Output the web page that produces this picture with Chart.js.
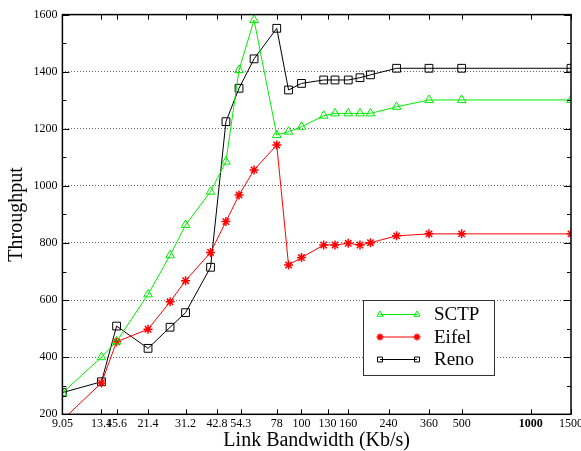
<!DOCTYPE html>
<html>
<head>
<meta charset="utf-8">
<script src="https://cdn.jsdelivr.net/npm/chart.js@4.4.1/dist/chart.umd.min.js"></script>
<style>
  body { margin: 0; background: #fff; }
  canvas { display: block; }
</style>
</head>
<body>
<canvas id="chart" width="581" height="451"></canvas>
<script>
// link bandwidth (Kb/s) of each measured point
var bandwidth = [9.05, 13.4, 15.6, 21.4, 26.7, 31.2, 40.1, 46.8, 53.4, 62.1, 78, 87.8, 100, 125, 140, 160, 180, 200, 260, 360, 500, 1500];
var sctp  = [275, 400, 455, 620, 757, 863, 980, 1085, 1406, 1581, 1178, 1190, 1207, 1246, 1254, 1254, 1254, 1254, 1277, 1301, 1301, 1301];
var eifel = [180, 310, 454, 498, 594, 668, 767, 875, 968, 1056, 1143, 723, 749, 793, 793, 799, 793, 801, 825, 832, 832, 832];
var reno  = [276, 314, 509, 431, 505, 556, 715, 1225, 1342, 1445, 1552, 1336, 1359, 1371, 1371, 1371, 1379, 1389, 1412, 1412, 1412, 1412];

var xTicks = [9.05, 13.4, 15.6, 21.4, 31.2, 42.8, 54.3, 78, 100, 130, 160, 240, 360, 500, 1000, 1500];
var yMin = 200, yMax = 1600;

var serif = '"Liberation Serif", "DejaVu Serif", serif';

function points(ys){
	var out = [];
	for(var i = 0; i < bandwidth.length; i++){
		out.push({x: bandwidth[i], y: ys[i]});
	}
	return out;
}

// box round the plot, inward ticks on all four sides
var frame = {
	id: 'frame',
	afterDatasetsDraw: function(chart){
		var ctx = chart.ctx, a = chart.chartArea;
		var xs = chart.scales.x, ys = chart.scales.y;
		ctx.save();
		ctx.strokeStyle = '#000';
		ctx.lineWidth = 1;
		ctx.beginPath();
		for(var i = 0; i < xTicks.length; i++){
			var px = Math.round(xs.getPixelForValue(xTicks[i])) + 0.5;
			ctx.moveTo(px, a.bottom); ctx.lineTo(px, a.bottom - 5);
			ctx.moveTo(px, a.top); ctx.lineTo(px, a.top + 5);
		}
		for(var v = yMin; v <= yMax; v += 100){
			var py = Math.round(ys.getPixelForValue(v)) + 0.5;
			var len = (v % 200 == 0) ? 7 : 4;
			ctx.moveTo(a.left, py); ctx.lineTo(a.left + len, py);
			ctx.moveTo(a.right, py); ctx.lineTo(a.right - len, py);
		}
		ctx.stroke();
		ctx.lineWidth = 1.5;
		ctx.strokeRect(a.left, a.top, a.right - a.left, a.bottom - a.top);
		ctx.restore();
	}
};

// legend box sitting inside the plot
var boxLegend = {
	id: 'boxLegend',
	afterDraw: function(chart){
		var ctx = chart.ctx;
		var x0 = 363.5, y0 = 300.5, w = 131, h = 75;
		ctx.save();
		ctx.fillStyle = '#fff';
		ctx.fillRect(x0, y0, w, h);
		ctx.strokeStyle = '#333';
		ctx.lineWidth = 1;
		ctx.strokeRect(x0, y0, w, h);
		ctx.font = '19px ' + serif;
		ctx.textBaseline = 'middle';
		chart.data.datasets.forEach(function(ds, i){
			var y = 314.5 + i * 22.5;
			ctx.strokeStyle = ds.borderColor;
			ctx.lineWidth = 1;
			ctx.beginPath();
			ctx.moveTo(380, y); ctx.lineTo(417, y);
			ctx.stroke();
			var opts = {pointStyle: ds.pointStyle, radius: 3.5, rotation: 0, borderWidth: ds.pointBorderWidth};
			ctx.fillStyle = ds.pointBackgroundColor;
			ctx.lineWidth = ds.pointBorderWidth;
			Chart.helpers.drawPoint(ctx, opts, 380, y);
			Chart.helpers.drawPoint(ctx, opts, 417, y);
			ctx.fillStyle = '#000';
			ctx.fillText(ds.label, 434, y + 1);
		});
		ctx.restore();
	}
};

new Chart(document.getElementById('chart'), {
	type: 'line',
	data: {
		datasets: [{
			label: 'SCTP',
			data: points(sctp),
			borderColor: '#00ee00',
			borderWidth: 1,
			pointStyle: 'triangle',
			pointRadius: 5,
			pointBorderWidth: 1,
			pointBackgroundColor: 'rgba(0,0,0,0)',
			pointBorderColor: '#00ee00'
		}, {
			label: 'Eifel',
			data: points(eifel),
			borderColor: '#ff0000',
			borderWidth: 1,
			pointStyle: 'star',
			pointRadius: 4.5,
			pointBorderWidth: 1.5,
			pointBackgroundColor: 'rgba(0,0,0,0)',
			pointBorderColor: '#ff0000'
		}, {
			label: 'Reno',
			data: points(reno),
			borderColor: '#000000',
			borderWidth: 1,
			pointStyle: 'rect',
			pointRadius: 5.5,
			pointBorderWidth: 1,
			pointBackgroundColor: 'rgba(0,0,0,0)',
			pointBorderColor: '#000000'
		}]
	},
	options: {
		responsive: false,
		animation: false,
		layout: { padding: { top: 14.6, right: 10, left: 0, bottom: 0 } },
		plugins: {
			legend: { display: false },
			tooltip: { enabled: false }
		},
		scales: {
			x: {
				type: 'logarithmic',
				min: 9.05,
				max: 1500,
				afterBuildTicks: function(scale){
					scale.ticks = xTicks.map(function(v){ return {value: v}; });
				},
				afterFit: function(scale){
					scale.height = 36.7;
					scale.paddingLeft = 0;
					scale.paddingRight = 0;
				},
				grid: { display: false, drawTicks: false },
				border: { display: false },
				ticks: {
					autoSkip: false,
					maxRotation: 0,
					minRotation: 0,
					padding: 2,
					color: '#000',
					font: function(c){
						var bold = c.tick && c.tick.value == 1000;
						return { family: serif, size: 12, weight: bold ? 'bold' : 'normal' };
					},
					callback: function(v){ return String(v); }
				},
				title: {
					display: true,
					text: 'Link Bandwidth (Kb/s)',
					color: '#000',
					font: { family: serif, size: 20 },
					padding: { top: 0, bottom: -2 }
				}
			},
			y: {
				min: yMin,
				max: yMax,
				afterFit: function(scale){
					scale.width = 62.4;
					scale.paddingTop = 0;
					scale.paddingBottom = 0;
				},
				grid: { color: '#666', lineWidth: 1, drawTicks: false },
				border: { display: false, dash: [1, 2] },
				ticks: {
					stepSize: 200,
					padding: 5,
					color: '#000',
					font: { family: serif, size: 12 },
					callback: function(v){ return String(v); }
				},
				title: {
					display: true,
					text: 'Throughput',
					color: '#000',
					font: { family: serif, size: 20 },
					padding: { top: 5, bottom: 0 }
				}
			}
		}
	},
	plugins: [frame, boxLegend]
});
</script>
</body>
</html>
